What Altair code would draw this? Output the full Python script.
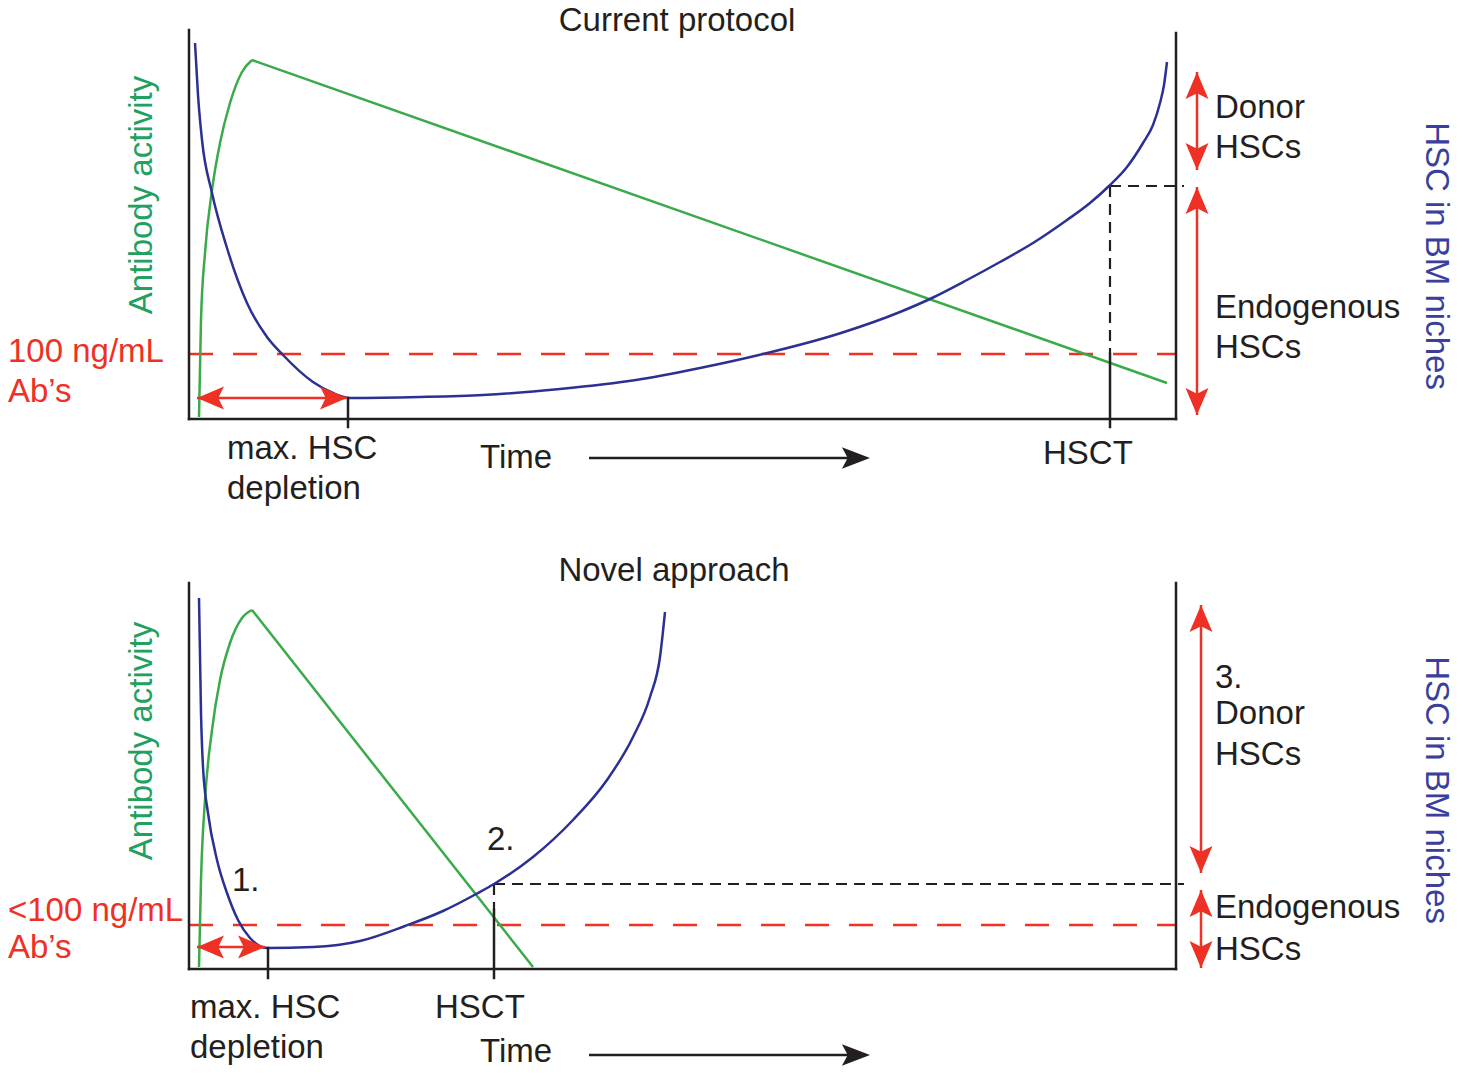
import altair as alt
import pandas as pd

FONT = "Liberation Sans"
INK = "#231f20"
RED = "#ee3124"
GREEN = "#3aaa4a"
GREEN_TXT = "#22a060"
NAVY = "#2b3192"
NAVY_TXT = "#3a3f9e"
FS = 33

# ---------------- curve values (pixel units) ----------------
# Panel 1 - Current protocol
top_green_rise_x = [199, 201, 205, 212, 220, 230, 242, 252]
top_green_rise_y = [417, 320, 253, 190, 143, 103, 72, 60]
top_green_fall_x = [252, 1167]
top_green_fall_y = [60, 383]
top_blue_x = [195, 198, 202, 212, 227, 247, 267, 283, 313, 333, 350, 420, 483, 560, 636, 700,
              759, 841, 900, 932, 967, 1000, 1033, 1067, 1090, 1109, 1127, 1143, 1153, 1160,
              1164, 1167]
top_blue_y = [43, 95, 140, 193, 248, 303, 337, 355, 382, 393, 398, 397, 395, 389, 380, 368,
              355, 333, 312, 298, 280, 262, 243, 220, 203, 186, 167, 143, 125, 103,
              85, 62]

# Panel 2 - Novel approach
bot_green_rise_x = [199, 201, 205, 212, 220, 230, 242, 252]
bot_green_rise_y = [967, 880, 800, 730, 680, 643, 618, 610]
bot_green_fall_x = [252, 533]
bot_green_fall_y = [610, 967]
bot_blue_x = [199, 201, 203, 208, 217, 227, 238, 250, 267, 313, 360, 405, 443, 478, 494,
              533, 573, 607, 633, 650, 660, 665]
bot_blue_y = [598, 713, 767, 813, 860, 893, 920, 938, 948, 947, 941, 926, 911, 893, 884,
              857, 820, 780, 737, 697, 657, 612]

# ---------------- segments ----------------
frame_x1 = [189, 189, 1176, 189, 189, 1176, 348, 1110, 268, 494]
frame_y1 = [30, 419, 33, 583, 969, 583, 398, 354, 948, 910]
frame_x2 = [189, 1176, 1176, 189, 1176, 1176, 348, 1110, 268, 494]
frame_y2 = [419, 419, 419, 969, 969, 969, 427, 427, 978, 978]

bdash_x1 = [1110, 1110, 494, 494]
bdash_y1 = [186, 186, 884, 884]
bdash_x2 = [1110, 1184, 494, 1184]
bdash_y2 = [354, 186, 910, 884]

rdash_x1 = [189, 189]
rdash_y = [354, 925]
rdash_x2 = [1176, 1176]

rshaft_x1 = [197, 1197, 1197, 197, 1201, 1201]
rshaft_y1 = [398, 72, 187, 947, 605, 890]
rshaft_x2 = [347, 1197, 1197, 265, 1201, 1201]
rshaft_y2 = [398, 170, 415, 947, 873, 968]

time_x1 = [589, 589]
time_y = [458, 1055]
time_x2 = [860, 860]

# arrow heads: tip position and direction (deg, 0 = up)
rhead_x = [197, 347, 1197, 1197, 1197, 1197, 197, 265, 1201, 1201, 1201, 1201]
rhead_y = [398, 398, 72, 170, 187, 415, 947, 947, 605, 873, 890, 968]
rhead_a = [270, 90, 0, 180, 0, 180, 270, 90, 0, 180, 0, 180]
bhead_x = [870, 870]
bhead_y = [458, 1055]
bhead_a = [90, 90]

# ---------------- text ----------------
black_txt = ["Donor", "HSCs", "Endogenous", "HSCs", "max. HSC", "depletion", "Time", "HSCT",
             "3.", "Donor", "HSCs", "Endogenous", "HSCs", "1.", "2.", "max. HSC", "depletion",
             "HSCT", "Time"]
black_x = [1215, 1215, 1215, 1215, 227, 227, 480, 1043,
           1215, 1215, 1215, 1215, 1215, 232, 487, 190, 190, 435, 480]
black_y = [118, 158, 318, 358, 459, 499, 468, 464,
           688, 724, 765, 918, 960, 891, 850, 1018, 1058, 1018, 1062]

title_txt = ["Current protocol", "Novel approach"]
title_x = [677, 674]
title_y = [31, 581]

red_txt = ["100 ng/mL", "Ab’s", "<100 ng/mL", "Ab’s"]
red_x = [8, 8, 8, 8]
red_y = [362, 402, 921, 958]

green_txt = ["Antibody activity", "Antibody activity"]
green_x = [152, 152]
green_y = [195, 741]

navy_txt = ["HSC in BM niches", "HSC in BM niches"]
navy_x = [1426, 1426]
navy_y = [256, 790]

# ---------------- build tables ----------------
def curve(name, xs, ys, color):
    return pd.DataFrame({"x": xs, "y": ys, "seg": name, "col": color})

smooth_df = pd.concat([
    curve("g1", top_green_rise_x, top_green_rise_y, GREEN),
    curve("g2", bot_green_rise_x, bot_green_rise_y, GREEN),
    curve("b1", top_blue_x, top_blue_y, NAVY),
    curve("b2", bot_blue_x, bot_blue_y, NAVY),
])
straight_df = pd.concat([
    curve("f1", top_green_fall_x, top_green_fall_y, GREEN),
    curve("f2", bot_green_fall_x, bot_green_fall_y, GREEN),
])

def seg_df(x1, y1, x2, y2):
    return pd.DataFrame({"x": x1, "y": y1, "x2": x2, "y2": y2})

frame_df = seg_df(frame_x1, frame_y1, frame_x2, frame_y2)
bdash_df = seg_df(bdash_x1, bdash_y1, bdash_x2, bdash_y2)
rdash_df = seg_df(rdash_x1, rdash_y, rdash_x2, rdash_y)
rshaft_df = seg_df(rshaft_x1, rshaft_y1, rshaft_x2, rshaft_y2)
time_df = seg_df(time_x1, time_y, time_x2, time_y)

rhead_df = pd.DataFrame({"x": rhead_x, "y": rhead_y, "a": rhead_a})
bhead_df = pd.DataFrame({"x": bhead_x, "y": bhead_y, "a": bhead_a})

def txt_df(t, x, y):
    return pd.DataFrame({"t": t, "x": x, "y": y})

# ---------------- scales ----------------
XS = alt.Scale(domain=[8, 1455], nice=False, zero=False)
YS = alt.Scale(domain=[8, 1070], nice=False, zero=False, reverse=True)

def X(f="x"):
    return alt.X(f"{f}:Q", scale=XS, axis=None)

def Y(f="y"):
    return alt.Y(f"{f}:Q", scale=YS, axis=None)

def rules(df, color, width, dash=None, cap="butt"):
    kw = dict(color=color, strokeWidth=width, strokeCap=cap)
    if dash:
        kw["strokeDash"] = dash
    return alt.Chart(df).mark_rule(**kw).encode(x=X(), y=Y(), x2="x2:Q", y2="y2:Q")

def texts(df, color, align="left", angle=0):
    return alt.Chart(df).mark_text(
        align=align, baseline="alphabetic", font=FONT, fontSize=FS, color=color, angle=angle
    ).encode(x=X(), y=Y(), text="t:N")

RED_HEAD = "M0,0 L0.7,1.65 L0,1.3 L-0.7,1.65 Z"
BLK_HEAD = "M0,0 L0.65,1.7 L0,1.35 L-0.65,1.7 Z"

def heads(df, color, shape, size):
    return alt.Chart(df).mark_point(
        shape=shape, size=size, filled=True, color=color, opacity=1, strokeWidth=0
    ).encode(x=X(), y=Y(), angle=alt.Angle("a:Q", scale=None))

layers = [
    rules(rdash_df, RED, 2.5, dash=[24, 20]),
    rules(bdash_df, INK, 2.2, dash=[11, 7]),
    alt.Chart(straight_df).mark_line(strokeWidth=2.5, interpolate="linear").encode(
        x=X(), y=Y(), detail="seg:N", color=alt.Color("col:N", scale=None)),
    alt.Chart(smooth_df).mark_line(strokeWidth=2.5, interpolate="monotone").encode(
        x=X(), y=Y(), detail="seg:N", color=alt.Color("col:N", scale=None)),
    rules(frame_df, INK, 2.5, cap="square"),
    rules(rshaft_df, RED, 2.5),
    rules(time_df, INK, 2.5),
    heads(rhead_df, RED, RED_HEAD, 1070),
    heads(bhead_df, INK, BLK_HEAD, 1090),
    texts(txt_df(black_txt, black_x, black_y), INK),
    texts(txt_df(title_txt, title_x, title_y), INK, align="center"),
    texts(txt_df(red_txt, red_x, red_y), RED),
    texts(txt_df(green_txt, green_x, green_y), GREEN_TXT, align="center", angle=270),
    texts(txt_df(navy_txt, navy_x, navy_y), NAVY_TXT, align="center", angle=90),
]

chart = alt.layer(*layers).properties(
    width=1447, height=1062, padding=0,
    autosize=alt.AutoSizeParams(type="none"),
    background="white",
).configure_view(stroke=None)

chart.save("out.html", embed_options={"renderer": "svg", "actions": False})
